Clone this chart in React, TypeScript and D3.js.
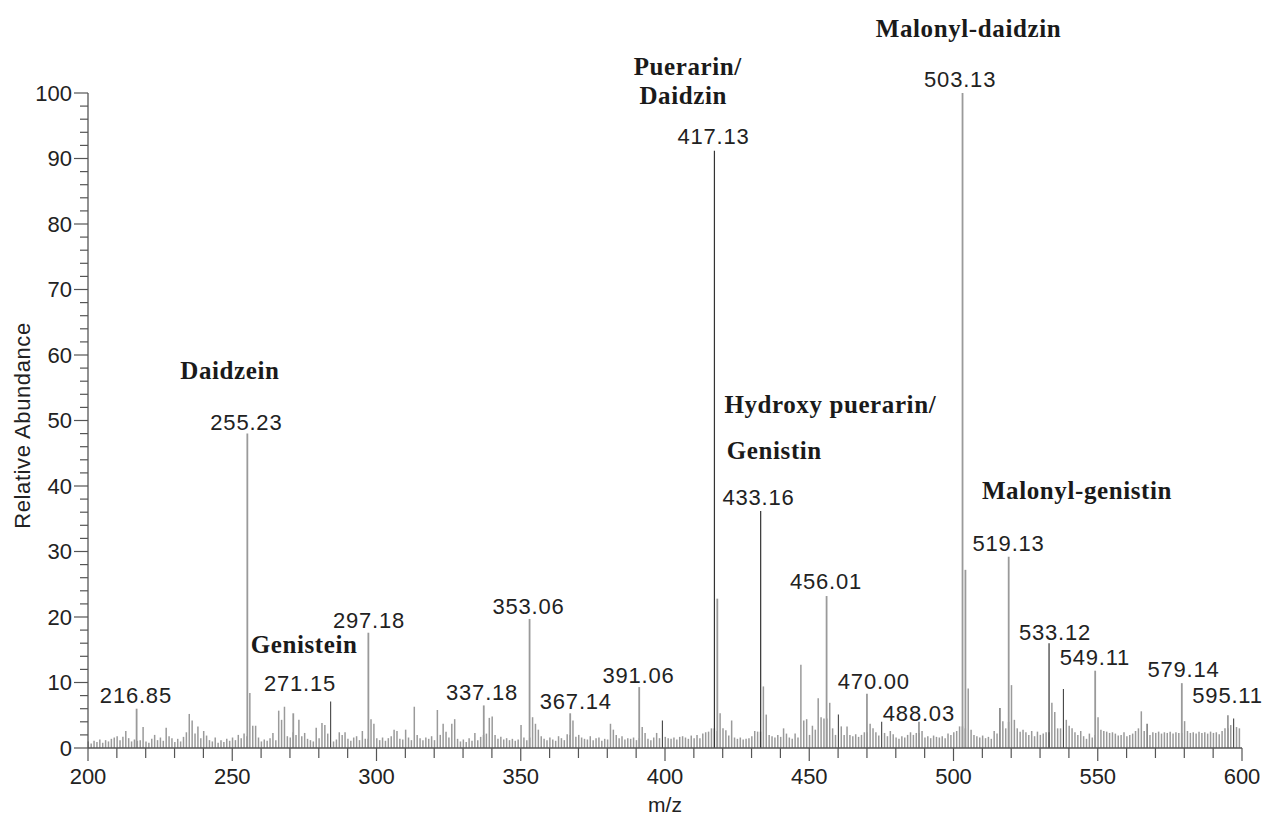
import React from "react";
import * as d3 from "d3";

// ---------- data ----------
const mzStart = 200;
// background ions, one per nominal m/z from 200 to 599 (relative abundance, %)
const baselineAbundance: number[] = [
  // 200-209
  1.0, 0.7, 1.1, 0.9, 1.3, 0.8, 1.2, 1.0, 1.4, 1.6,
  // 210-219
  1.8, 1.2, 1.7, 2.6, 1.5, 1.0, 1.3, 1.1, 1.2, 3.2,
  // 220-229
  1.0, 0.8, 1.4, 2.0, 1.2, 1.6, 1.1, 3.1, 1.8, 1.5,
  // 230-239
  0.9, 1.4, 1.0, 1.7, 2.4, 5.2, 4.2, 2.2, 3.3, 1.5,
  // 240-249
  2.6, 1.9, 1.2, 1.0, 1.6, 0.8, 1.2, 0.9, 1.4, 1.1,
  // 250-259
  1.6, 1.2, 2.0, 1.5, 2.2, 1.8, 8.4, 3.4, 3.4, 1.6,
  // 260-269
  1.0, 1.3, 1.1, 1.5, 2.3, 1.2, 5.7, 4.3, 6.3, 1.8,
  // 270-279
  1.6, 2.4, 2.0, 4.3, 1.8, 2.3, 1.4, 1.2, 1.0, 3.1,
  // 280-289
  1.5, 3.8, 3.5, 2.2, 7.1, 1.0, 1.3, 2.4, 2.0, 2.4,
  // 290-299
  1.4, 1.1, 1.6, 1.8, 1.2, 2.6, 1.4, 1.4, 4.4, 3.7,
  // 300-309
  1.5, 1.2, 1.6, 1.1, 1.5, 1.8, 2.8, 2.6, 1.4, 1.3,
  // 310-319
  2.8, 1.6, 1.2, 6.3, 2.0, 1.5, 1.2, 1.6, 1.4, 1.8,
  // 320-329
  1.2, 5.8, 2.0, 3.7, 2.5, 1.6, 3.7, 4.4, 1.4, 1.0,
  // 330-339
  1.3, 0.9, 1.5, 1.1, 2.3, 1.2, 1.7, 2.0, 2.2, 4.6,
  // 340-349
  4.8, 2.0, 1.4, 1.7, 1.3, 1.5, 1.2, 1.4, 1.1, 1.3,
  // 350-359
  3.5, 1.6, 1.2, 1.6, 4.7, 3.7, 2.8, 1.8, 1.4, 1.2,
  // 360-369
  1.6, 1.3, 1.1, 1.8, 1.5, 1.2, 2.1, 2.0, 4.2, 1.7,
  // 370-379
  2.0, 1.6, 1.4, 1.3, 1.8, 1.2, 1.5, 1.6, 1.1, 1.4,
  // 380-389
  1.3, 3.7, 2.8, 2.0, 1.5, 1.8, 1.3, 1.5, 1.4, 1.6,
  // 390-399
  1.2, 1.5, 3.2, 2.3, 1.4, 1.2, 1.6, 2.3, 1.5, 4.2,
  // 400-409
  1.7, 1.5, 1.4, 1.6, 1.3, 1.7, 1.8, 1.6, 1.4, 1.9,
  // 410-419
  1.5, 2.0, 1.5, 2.2, 2.4, 2.5, 3.0, 3.0, 2.6, 5.3,
  // 420-429
  3.0, 2.7, 1.9, 4.2, 1.6, 1.4, 1.6, 1.3, 1.4, 1.5,
  // 430-439
  1.8, 2.6, 2.5, 2.5, 9.4, 5.1, 2.0, 1.8, 1.6, 2.0,
  // 440-449
  1.7, 3.0, 2.2, 1.6, 1.4, 2.2, 1.6, 12.7, 4.2, 4.4,
  // 450-459
  2.0, 3.4, 2.8, 7.6, 4.7, 4.5, 4.5, 6.9, 3.0, 2.0,
  // 460-469
  5.1, 3.3, 2.0, 3.3, 2.0, 1.8, 2.1, 1.7, 2.0, 2.4,
  // 470-479
  2.4, 3.7, 3.0, 2.4, 1.9, 4.0, 2.3, 1.8, 2.6, 2.1,
  // 480-489
  1.6, 1.4, 1.8, 1.6, 2.0, 2.4, 2.0, 2.3, 2.3, 2.6,
  // 490-499
  1.6, 1.8, 1.5, 1.9, 1.7, 1.6, 1.8, 1.5, 2.2, 2.0,
  // 500-509
  2.4, 2.6, 3.3, 3.3, 3.0, 9.1, 2.8, 2.0, 1.8, 1.6,
  // 510-519
  1.9, 1.5, 1.7, 1.4, 2.6, 2.2, 6.1, 4.1, 3.0, 4.0,
  // 520-529
  9.6, 4.3, 3.0, 2.5, 2.8, 2.4, 2.0, 2.6, 1.8, 2.5,
  // 530-539
  2.0, 2.2, 2.4, 2.4, 6.9, 5.5, 3.0, 3.0, 9.0, 4.3,
  // 540-549
  3.4, 3.0, 2.4, 2.0, 2.6, 1.8, 1.4, 2.2, 1.6, 2.0,
  // 550-559
  4.7, 2.8, 2.6, 2.5, 2.3, 2.4, 2.2, 1.9, 2.0, 2.4,
  // 560-569
  1.8, 2.0, 2.2, 2.6, 3.0, 5.6, 2.6, 3.7, 2.0, 2.4,
  // 570-579
  2.3, 2.5, 2.2, 2.4, 2.3, 2.5, 2.2, 2.4, 2.3, 2.3,
  // 580-589
  4.1, 2.6, 2.3, 2.4, 2.2, 2.5, 2.3, 2.4, 2.2, 2.5,
  // 590-599
  2.3, 2.4, 2.1, 2.6, 3.0, 3.0, 3.5, 4.5, 3.2, 3.0,
];

// principal ions
const peakMz = [
  216.85, 255.23, 271.15, 297.18, 337.18, 353.06, 367.14, 391.06,
  417.13, 418.13, 433.16, 456.01, 470.0, 488.03, 503.13, 504.13,
  519.13, 533.12, 549.11, 579.14, 595.11,
];
const peakAbundance = [
  6.0, 48.0, 5.3, 17.6, 6.5, 19.7, 5.3, 9.3,
  91.2, 22.8, 36.2, 23.2, 8.3, 4.0, 100, 27.2,
  29.2, 16.0, 11.8, 9.9, 5.0,
];

const xTickValues = [200, 250, 300, 350, 400, 450, 500, 550, 600];
const yTickValues = [0, 10, 20, 30, 40, 50, 60, 70, 80, 90, 100];

// annotation texts, anchored in data units (m/z, abundance)
const massLabels = [
  { text: "216.85", mz: 216.6, ab: 6.9 },
  { text: "255.23", mz: 254.9, ab: 48.5 },
  { text: "271.15", mz: 273.5, ab: 8.7 },
  { text: "297.18", mz: 297.4, ab: 18.3 },
  { text: "337.18", mz: 336.6, ab: 7.3 },
  { text: "353.06", mz: 352.7, ab: 20.5 },
  { text: "367.14", mz: 369.1, ab: 6.0 },
  { text: "391.06", mz: 390.8, ab: 9.9 },
  { text: "417.13", mz: 416.8, ab: 92.2 },
  { text: "433.16", mz: 432.4, ab: 37.1 },
  { text: "456.01", mz: 455.8, ab: 24.3 },
  { text: "470.00", mz: 472.4, ab: 9.0 },
  { text: "488.03", mz: 488.0, ab: 4.1 },
  { text: "503.13", mz: 502.3, ab: 100.9 },
  { text: "519.13", mz: 519.1, ab: 30.1 },
  { text: "533.12", mz: 535.2, ab: 16.5 },
  { text: "549.11", mz: 549.0, ab: 12.7 },
  { text: "579.14", mz: 579.7, ab: 10.8 },
  { text: "595.11", mz: 595.0, ab: 6.9 },
];
const compoundLabels = [
  { text: "Daidzein", mz: 249.2, ab: 56.3 },
  { text: "Genistein", mz: 274.9, ab: 14.5 },
  { text: "Puerarin/", mz: 407.9, ab: 102.7 },
  { text: "Daidzin", mz: 406.3, ab: 98.3 },
  { text: "Hydroxy puerarin/", mz: 457.3, ab: 51.1 },
  { text: "Genistin", mz: 437.9, ab: 44.1 },
  { text: "Malonyl-daidzin", mz: 505.2, ab: 108.5 },
  { text: "Malonyl-genistin", mz: 542.8, ab: 38.0 },
];

const xTitle = "m/z";
const yTitle = "Relative Abundance";

// ---------- chart ----------
export default function App() {
  const W = 1266;
  const H = 817;
  const x = d3.scaleLinear().domain([200, 600]).range([88, 1242]);
  const y = d3.scaleLinear().domain([0, 100]).range([748, 93]);

  const noise = baselineAbundance.map((v, i) => ({ mz: mzStart + i + 0.1, v }));
  const peaks = peakMz.map((mz, i) => ({ mz, v: peakAbundance[i] }));
  const darkSet = new Set([417.13, 433.16, 533.12]);
  const darkNoise = new Set([284, 399, 460, 475, 516, 538, 567, 595, 597]);

  const xMinor = d3.range(200, 601, 10);
  const yMinor = d3.range(0, 101, 2);
  const num = "'Liberation Sans', Arial, Helvetica, sans-serif";
  const serif = "'Liberation Serif', 'Times New Roman', serif";
  const axisColor = "#555";

  return (
    <svg
      width={W}
      height={H}
      style={{ position: "absolute", left: 0, top: 0, background: "#fff" }}
    >
      <rect x={0} y={0} width={W} height={H} fill="#fff" />
      {/* background ions */}
      <g>
        {noise.map((d, i) => (
          <line
            key={"n" + i}
            x1={x(d.mz)}
            x2={x(d.mz)}
            y1={y(0)}
            y2={y(d.v)}
            stroke={darkNoise.has(mzStart + i) ? "#444" : "#9a9a9a"}
            strokeWidth={darkNoise.has(mzStart + i) ? 1.1 : 1.5}
          />
        ))}
      </g>
      {/* principal ions */}
      <g>
        {peaks.map((d, i) => (
          <line
            key={"p" + i}
            x1={x(d.mz)}
            x2={x(d.mz)}
            y1={y(0)}
            y2={y(d.v)}
            stroke={darkSet.has(d.mz) ? "#333" : "#9a9a9a"}
            strokeWidth={darkSet.has(d.mz) ? 1.2 : 1.8}
          />
        ))}
      </g>

      {/* y axis */}
      <line x1={x(200)} x2={x(200)} y1={y(0)} y2={y(100)} stroke={axisColor} strokeWidth={1.3} />
      {yMinor.map((t) => (
        <line
          key={"ym" + t}
          x1={x(200) - (t % 10 === 0 ? 14 : 8)}
          x2={x(200)}
          y1={y(t)}
          y2={y(t)}
          stroke={axisColor}
          strokeWidth={1.2}
        />
      ))}
      {yTickValues.map((t) => (
        <text
          key={"yl" + t}
          x={x(200) - 16}
          y={y(t)}
          dy="0.36em"
          textAnchor="end"
          fontFamily={num}
          fontSize={22}
          fill="#222"
        >
          {t}
        </text>
      ))}
      <text
        transform={`translate(${22},${(y(0) + y(100)) / 2 + 5}) rotate(-90)`}
        textAnchor="middle"
        dy="0.36em"
        fontFamily={num}
        fontSize={22}
        letterSpacing={0.6}
        fill="#222"
      >
        {yTitle}
      </text>

      {/* x axis */}
      <line x1={x(200)} x2={x(600)} y1={y(0)} y2={y(0)} stroke={axisColor} strokeWidth={1.3} />
      {xMinor.map((t) => (
        <line
          key={"xm" + t}
          x1={x(t)}
          x2={x(t)}
          y1={y(0)}
          y2={y(0) + (t % 50 === 0 ? 13 : 10)}
          stroke={axisColor}
          strokeWidth={1.2}
        />
      ))}
      {xTickValues.map((t) => (
        <text
          key={"xl" + t}
          x={x(t)}
          y={784}
          textAnchor="middle"
          fontFamily={num}
          fontSize={22}
          fill="#222"
        >
          {t}
        </text>
      ))}
      <text x={x(400)} y={812} textAnchor="middle" fontFamily={num} fontSize={21} fill="#222">
        {xTitle}
      </text>

      {/* mass labels */}
      {massLabels.map((l) => (
        <text
          key={l.text}
          x={x(l.mz)}
          y={y(l.ab)}
          textAnchor="middle"
          fontFamily={num}
          fontSize={22}
          letterSpacing={0.8}
          fill="#222"
        >
          {l.text}
        </text>
      ))}
      {/* compound labels */}
      {compoundLabels.map((l) => (
        <text
          key={l.text}
          x={x(l.mz)}
          y={y(l.ab)}
          textAnchor="middle"
          fontFamily={serif}
          fontWeight="bold"
          fontSize={25}
          letterSpacing={0.6}
          fill="#1a1a1a"
        >
          {l.text}
        </text>
      ))}
    </svg>
  );
}
